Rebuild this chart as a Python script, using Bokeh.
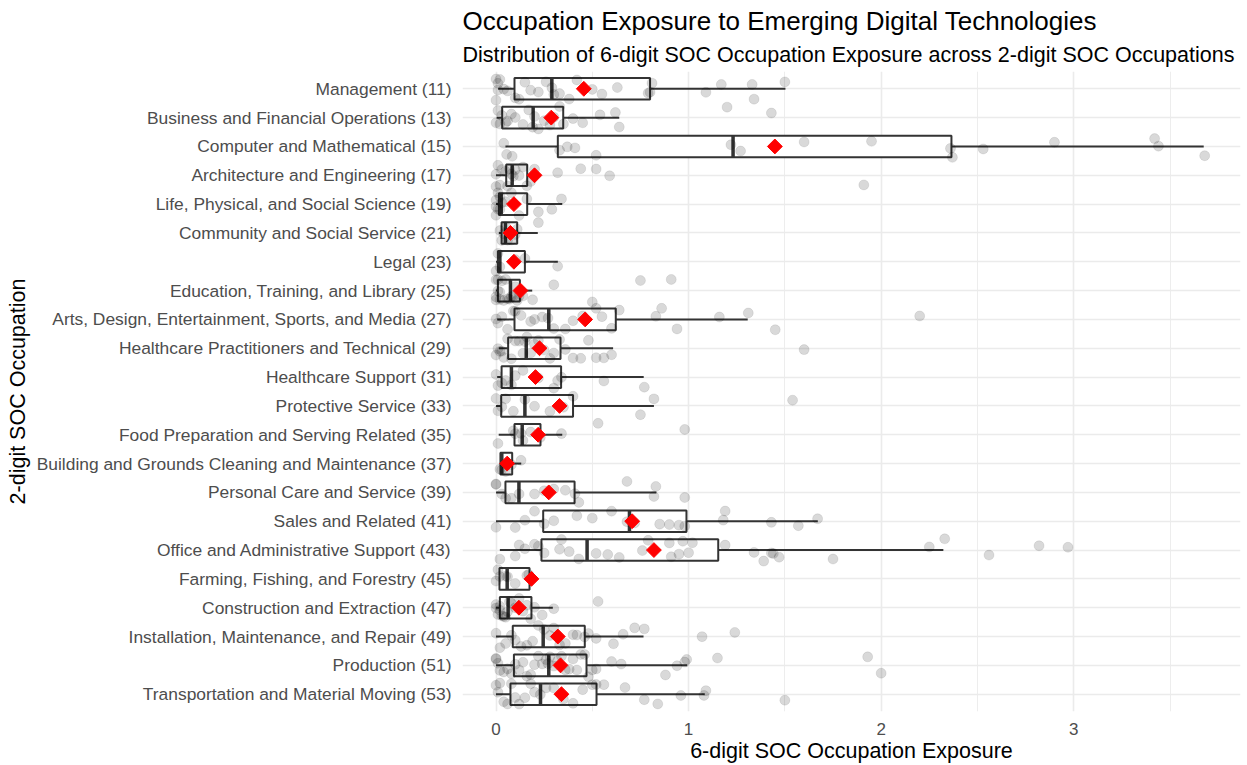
import math
from bokeh.plotting import figure
from bokeh.models import ColumnDataSource, Range1d, FactorRange, FixedTicker, Title
from bokeh.transform import jitter, dodge
from bokeh.embed import file_html
from bokeh.resources import INLINE

# ---------------- data ----------------
categories = [
    "Management (11)",
    "Business and Financial Operations (13)",
    "Computer and Mathematical (15)",
    "Architecture and Engineering (17)",
    "Life, Physical, and Social Science (19)",
    "Community and Social Service (21)",
    "Legal (23)",
    "Education, Training, and Library (25)",
    "Arts, Design, Entertainment, Sports, and Media (27)",
    "Healthcare Practitioners and Technical (29)",
    "Healthcare Support (31)",
    "Protective Service (33)",
    "Food Preparation and Serving Related (35)",
    "Building and Grounds Cleaning and Maintenance (37)",
    "Personal Care and Service (39)",
    "Sales and Related (41)",
    "Office and Administrative Support (43)",
    "Farming, Fishing, and Forestry (45)",
    "Construction and Extraction (47)",
    "Installation, Maintenance, and Repair (49)",
    "Production (51)",
    "Transportation and Material Moving (53)",
]

whisk_lo = [0.011, 0.003, 0.049, 0.0, 0.0, 0.015, 0.0, 0.0, 0.006, 0.015, 0.006,
            0.0, 0.014, 0.02, 0.0, 0.0, 0.02, 0.018, 0.0, 0.0, 0.0, 0.0]
q1 = [0.096, 0.032, 0.321, 0.053, 0.015, 0.029, 0.01, 0.01, 0.096, 0.063, 0.029,
      0.027, 0.096, 0.023, 0.049, 0.245, 0.236, 0.018, 0.02, 0.087, 0.093, 0.075]
median = [0.29, 0.193, 1.231, 0.084, 0.027, 0.049, 0.02, 0.075, 0.274, 0.157, 0.08,
          0.15, 0.136, 0.03, 0.119, 0.693, 0.473, 0.058, 0.063, 0.245, 0.274, 0.231]
q3 = [0.80, 0.349, 2.365, 0.162, 0.162, 0.11, 0.15, 0.124, 0.622, 0.335, 0.338,
      0.40, 0.231, 0.084, 0.408, 0.989, 1.154, 0.174, 0.184, 0.461, 0.47, 0.522]
whisk_hi = [1.503, 0.64, 3.675, 0.2, 0.344, 0.217, 0.321, 0.188, 1.307, 0.608, 0.767,
            0.82, 0.344, 0.131, 0.833, 1.671, 2.323, 0.174, 0.295, 0.766, 0.993, 1.084]
means = [0.456, 0.287, 1.448, 0.2, 0.093, 0.075, 0.093, 0.127, 0.463, 0.226, 0.205,
         0.33, 0.219, 0.058, 0.274, 0.707, 0.82, 0.184, 0.119, 0.321, 0.335, 0.34]

pts_management = [0.0, 0.0, 0.01, 0.01, 0.02, 0.04, 0.06, 0.1, 0.12, 0.15, 0.18, 0.22, 0.26, 0.29,
                  0.3, 0.33, 0.38, 0.42, 0.5, 0.55, 0.63, 0.79, 0.8, 0.81, 1.09, 1.17, 1.33, 1.34, 1.5]
pts_business = [0.0, 0.01, 0.02, 0.03, 0.05, 0.06, 0.08, 0.1, 0.14, 0.17, 0.19, 0.2, 0.22, 0.25,
                0.28, 0.3, 0.33, 0.35, 0.4, 0.45, 0.54, 0.62, 0.64, 1.2, 1.43]
pts_computer = [0.04, 0.055, 0.084, 0.33, 0.37, 0.41, 0.52, 1.22, 1.27, 1.6, 1.95, 2.36, 2.37,
                2.53, 2.9, 3.42, 3.44, 3.68]
pts_architecture = [0.0, 0.0, 0.01, 0.02, 0.03, 0.05, 0.06, 0.07, 0.08, 0.09, 0.1, 0.12, 0.14,
                    0.16, 0.18, 0.2, 0.32, 0.44, 0.52, 0.59, 1.91]
pts_life = [0.0, 0.0, 0.0, 0.01, 0.01, 0.02, 0.02, 0.03, 0.05, 0.08, 0.12, 0.16, 0.22, 0.29, 0.34]
pts_community = [0.02, 0.03, 0.04, 0.05, 0.06, 0.08, 0.1, 0.11, 0.22]
pts_legal = [0.0, 0.01, 0.02, 0.1, 0.15, 0.32]
pts_education = [0.0, 0.0, 0.0, 0.01, 0.01, 0.02, 0.02, 0.03, 0.04, 0.05, 0.06, 0.07, 0.08, 0.09,
                 0.1, 0.11, 0.12, 0.14, 0.19, 0.3, 0.5, 0.75, 0.91]
pts_arts = [0.0, 0.01, 0.03, 0.06, 0.09, 0.1, 0.13, 0.18, 0.2, 0.24, 0.27, 0.3, 0.36, 0.4, 0.45,
            0.52, 0.55, 0.6, 0.64, 0.83, 0.86, 0.94, 1.16, 1.31, 1.45, 2.2]
pts_health_pract = [0.0, 0.01, 0.02, 0.03, 0.04, 0.06, 0.08, 0.1, 0.12, 0.14, 0.15, 0.16, 0.18,
                    0.2, 0.22, 0.25, 0.28, 0.3, 0.33, 0.36, 0.4, 0.44, 0.48, 0.52, 0.56, 0.6, 1.6]
pts_health_support = [0.0, 0.01, 0.03, 0.05, 0.08, 0.1, 0.14, 0.22, 0.3, 0.32, 0.34, 0.56, 0.77]
pts_protective = [0.0, 0.01, 0.03, 0.05, 0.09, 0.15, 0.2, 0.28, 0.35, 0.4, 0.75, 0.82, 1.54]
pts_food = [0.01, 0.09, 0.1, 0.13, 0.14, 0.18, 0.23, 0.34, 0.53, 0.98]
pts_building = [0.02, 0.03, 0.05, 0.08, 0.13]
pts_personal = [0.0, 0.0, 0.03, 0.05, 0.08, 0.12, 0.2, 0.25, 0.3, 0.36, 0.41, 0.43, 0.68, 0.82,
                0.83, 0.98]
pts_sales = [0.0, 0.1, 0.15, 0.2, 0.25, 0.3, 0.42, 0.5, 0.6, 0.68, 0.72, 0.85, 0.9, 0.95, 0.98,
             1.18, 1.19, 1.43, 1.57, 1.67]
pts_office = [0.02, 0.1, 0.12, 0.15, 0.2, 0.22, 0.25, 0.33, 0.34, 0.38, 0.43, 0.52, 0.58, 0.64,
              0.76, 0.79, 0.9, 0.91, 0.95, 0.97, 1.0, 1.02, 1.19, 1.34, 1.39, 1.43, 1.44, 1.47,
              1.75, 2.25, 2.33, 2.56, 2.82, 2.97]
pts_farming = [0.0, 0.01, 0.02, 0.05, 0.06, 0.1, 0.16, 0.17]
pts_construction = [0.0, 0.0, 0.01, 0.02, 0.02, 0.03, 0.04, 0.05, 0.06, 0.07, 0.08, 0.1, 0.12,
                    0.14, 0.16, 0.18, 0.2, 0.24, 0.3, 0.53]
pts_installation = [0.0, 0.02, 0.05, 0.08, 0.1, 0.13, 0.16, 0.19, 0.22, 0.25, 0.28, 0.3, 0.33,
                    0.36, 0.4, 0.42, 0.46, 0.48, 0.52, 0.61, 0.66, 0.72, 0.77, 1.07, 1.24]
pts_production = [0.0, 0.0, 0.01, 0.02, 0.04, 0.06, 0.08, 0.1, 0.12, 0.14, 0.16, 0.18, 0.2, 0.22,
                  0.24, 0.26, 0.27, 0.28, 0.3, 0.32, 0.34, 0.36, 0.38, 0.4, 0.42, 0.44, 0.46,
                  0.48, 0.5, 0.52, 0.6, 0.65, 0.88, 0.94, 0.98, 0.99, 1.15, 1.93, 2.0]
pts_transportation = [0.0, 0.01, 0.02, 0.04, 0.06, 0.08, 0.1, 0.12, 0.15, 0.18, 0.2, 0.23, 0.26,
                      0.3, 0.35, 0.4, 0.45, 0.5, 0.52, 0.56, 0.67, 0.77, 0.84, 0.96, 1.08, 1.09, 1.5]

point_lists = [pts_management, pts_business, pts_computer, pts_architecture, pts_life,
               pts_community, pts_legal, pts_education, pts_arts, pts_health_pract,
               pts_health_support, pts_protective, pts_food, pts_building, pts_personal,
               pts_sales, pts_office, pts_farming, pts_construction, pts_installation,
               pts_production, pts_transportation]

x_ticks = [0, 1, 2, 3]
x_minor = [0.5, 1.5, 2.5, 3.5]

title_text = "Occupation Exposure to Emerging Digital Technologies"
subtitle_text = "Distribution of 6-digit SOC Occupation Exposure across 2-digit SOC Occupations"

# ---------------- figure ----------------
FONT = "Liberation Sans"

box_src = ColumnDataSource(dict(cat=categories, lo=whisk_lo, q1=q1, med=median,
                                q3=q3, hi=whisk_hi, mean=means))
pt_cat, pt_val = [], []
for c, vals in zip(categories, point_lists):
    pt_cat += [c] * len(vals)
    pt_val += vals
pt_src = ColumnDataSource(dict(cat=pt_cat, val=pt_val))

y_range = FactorRange(factors=list(reversed(categories)), range_padding=0.1,
                      range_padding_units="absolute")

p = figure(width=1247, height=765, y_range=y_range, x_range=Range1d(-0.174, 3.866),
           output_backend="svg", toolbar_location=None, title=None,
           min_border_left=462, min_border_right=7, min_border_top=71, min_border_bottom=53)

p.add_layout(Title(text=subtitle_text, text_font=FONT, text_font_size="21.5px",
                   text_font_style="normal", text_color="black", align="left",
                   offset=0, standoff=10), "above")
p.add_layout(Title(text=title_text, text_font=FONT, text_font_size="26px",
                   text_font_style="normal", text_color="black", align="left",
                   offset=0, standoff=0), "above")

p.outline_line_color = None
p.background_fill_color = "white"
p.border_fill_color = "white"

# grid
p.xaxis.ticker = FixedTicker(ticks=x_ticks, minor_ticks=x_minor)
p.xgrid.grid_line_color = "#ebebeb"
p.xgrid.grid_line_width = 1.6
p.xgrid.minor_grid_line_color = "#ebebeb"
p.xgrid.minor_grid_line_width = 0.9
p.ygrid.grid_line_color = "#ebebeb"
p.ygrid.grid_line_width = 1.6

# axes
for ax in (p.xaxis, p.yaxis):
    ax.axis_line_color = None
    ax.major_tick_line_color = None
    ax.minor_tick_line_color = None
    ax.major_tick_out = 0
    ax.major_tick_in = 0
    ax.minor_tick_out = 0
    ax.minor_tick_in = 0
    ax.major_label_text_font = FONT
    ax.major_label_text_color = "#4d4d4d"
    ax.axis_label_text_font = FONT
    ax.axis_label_text_font_style = "normal"
    ax.axis_label_text_color = "black"
    ax.axis_label_text_font_size = "21.5px"

p.xaxis.major_label_text_font_size = "17px"
p.yaxis.major_label_text_font_size = "17.4px"
p.xaxis.axis_label = "6-digit SOC Occupation Exposure"
p.yaxis.axis_label = "2-digit SOC Occupation"
p.xaxis.major_label_standoff = 11
p.yaxis.major_label_standoff = 11
p.xaxis.axis_label_standoff = 1
p.yaxis.axis_label_standoff = 4

BOX_C = "#333333"
# whiskers
p.segment(x0="lo", y0="cat", x1="q1", y1="cat", source=box_src, line_color=BOX_C, line_width=2)
p.segment(x0="q3", y0="cat", x1="hi", y1="cat", source=box_src, line_color=BOX_C, line_width=2)
# boxes
p.hbar(y="cat", left="q1", right="q3", height=0.75, source=box_src,
       fill_color="white", line_color=BOX_C, line_width=2)
# medians
p.segment(x0="med", y0=dodge("cat", -0.375, range=y_range),
          x1="med", y1=dodge("cat", 0.375, range=y_range),
          source=box_src, line_color=BOX_C, line_width=3.5)
# jittered points
p.scatter(x="val", y=jitter("cat", width=0.8, range=y_range), source=pt_src,
          size=10, fill_color="black", fill_alpha=0.15, line_color="black", line_alpha=0.08)
# means
p.scatter(x="mean", y="cat", source=box_src, marker="square", angle=math.pi / 4,
          size=10.5, fill_color="red", line_color="red")

open("out.html", "w").write(file_html(p, INLINE))
